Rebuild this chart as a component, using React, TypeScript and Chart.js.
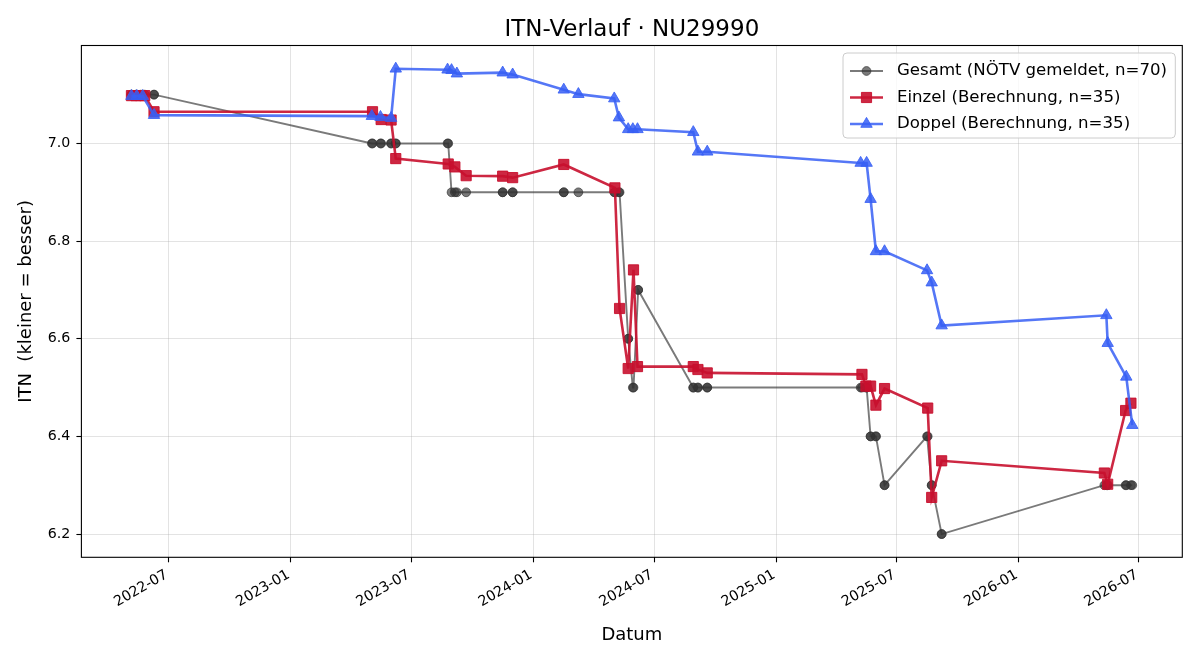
import { useEffect, useRef } from "react";
import { Chart, registerables } from "chart.js";

Chart.register(...registerables);

// ---- Data -------------------------------------------------------------

// Einzel (singles) ITN computed per match date
const einzelDates = [
  "2022-05-06", "2022-05-13", "2022-05-20", "2022-05-26", "2022-06-09",
  "2023-05-04", "2023-05-17", "2023-06-01", "2023-06-08",
  "2023-08-26", "2023-09-05", "2023-09-22",
  "2023-11-16", "2023-12-01",
  "2024-02-16",
  "2024-05-03", "2024-05-10", "2024-05-23", "2024-05-31", "2024-06-06",
  "2024-08-29", "2024-09-05", "2024-09-19",
  "2025-05-10", "2025-05-16", "2025-05-23", "2025-05-31", "2025-06-13",
  "2025-08-17", "2025-08-23", "2025-09-07",
  "2026-05-10", "2026-05-15", "2026-06-11", "2026-06-19",
];
const einzelValues = [
  7.098, 7.098, 7.098, 7.098, 7.065,
  7.065, 7.049, 7.048, 6.969,
  6.958, 6.952, 6.934,
  6.933, 6.930,
  6.957,
  6.909, 6.662, 6.539, 6.741, 6.543,
  6.543, 6.537, 6.530,
  6.527, 6.503, 6.503, 6.464, 6.498,
  6.458, 6.275, 6.350,
  6.325, 6.302, 6.453, 6.468,
];

// Doppel (doubles) ITN computed per match date
const doppelDates = [
  "2022-05-06", "2022-05-14", "2022-05-23", "2022-06-09",
  "2023-05-03", "2023-05-16", "2023-06-01", "2023-06-08",
  "2023-08-25", "2023-08-31", "2023-09-08",
  "2023-11-16", "2023-12-01",
  "2024-02-16", "2024-03-09",
  "2024-05-02", "2024-05-09", "2024-05-23", "2024-05-30", "2024-06-06",
  "2024-08-29", "2024-09-05", "2024-09-19",
  "2025-05-08", "2025-05-17", "2025-05-23", "2025-05-31", "2025-06-13",
  "2025-08-16", "2025-08-23", "2025-09-07",
  "2026-05-13", "2026-05-15", "2026-06-12", "2026-06-21",
];
const doppelValues = [
  7.097, 7.097, 7.097, 7.058,
  7.056, 7.054, 7.052, 7.153,
  7.151, 7.150, 7.143,
  7.145, 7.141,
  7.110, 7.101,
  7.092, 7.053, 7.029, 7.029, 7.029,
  7.023, 6.983, 6.983,
  6.960, 6.960, 6.886, 6.779, 6.779,
  6.740, 6.715, 6.627,
  6.648, 6.591, 6.522, 6.423,
];

// Gesamt: ITN as reported by the federation on every match date
const gesamtDates = [
  "2022-05-06", "2022-05-06", "2022-05-13", "2022-05-14", "2022-05-20",
  "2022-05-23", "2022-05-26", "2022-06-09", "2022-06-09",
  "2023-05-03", "2023-05-04", "2023-05-16", "2023-05-17", "2023-06-01",
  "2023-06-01", "2023-06-08", "2023-06-08", "2023-08-25", "2023-08-26",
  "2023-08-31", "2023-09-05", "2023-09-08", "2023-09-22",
  "2023-11-16", "2023-11-16", "2023-12-01", "2023-12-01",
  "2024-02-16", "2024-02-16", "2024-03-09",
  "2024-05-02", "2024-05-03", "2024-05-09", "2024-05-10",
  "2024-05-23", "2024-05-23", "2024-05-30", "2024-05-31", "2024-06-07", "2024-06-07",
  "2024-08-29", "2024-08-29", "2024-09-05", "2024-09-05", "2024-09-19", "2024-09-19",
  "2025-05-08", "2025-05-10", "2025-05-16", "2025-05-17",
  "2025-05-23", "2025-05-23", "2025-05-31", "2025-05-31", "2025-06-13", "2025-06-13",
  "2025-08-16", "2025-08-17", "2025-08-23", "2025-08-23", "2025-09-07", "2025-09-07",
  "2026-05-10", "2026-05-13", "2026-05-15", "2026-05-15",
  "2026-06-11", "2026-06-12", "2026-06-19", "2026-06-21",
];
const gesamtValues = [
  7.1, 7.1, 7.1, 7.1, 7.1,
  7.1, 7.1, 7.1, 7.1,
  7.0, 7.0, 7.0, 7.0, 7.0,
  7.0, 7.0, 7.0, 7.0, 7.0,
  6.9, 6.9, 6.9, 6.9,
  6.9, 6.9, 6.9, 6.9,
  6.9, 6.9, 6.9,
  6.9, 6.9, 6.9, 6.9,
  6.6, 6.6, 6.5, 6.5, 6.7, 6.7,
  6.5, 6.5, 6.5, 6.5, 6.5, 6.5,
  6.5, 6.5, 6.5, 6.5,
  6.4, 6.4, 6.4, 6.4, 6.3, 6.3,
  6.4, 6.4, 6.3, 6.3, 6.2, 6.2,
  6.3, 6.3, 6.3, 6.3,
  6.3, 6.3, 6.3, 6.3,
];

const yTickValues = [6.2, 6.4, 6.6, 6.8, 7.0];
const xTickMonths = [
  "2022-07", "2023-01", "2023-07", "2024-01", "2024-07",
  "2025-01", "2025-07", "2026-01", "2026-07",
];

const titleText = "ITN-Verlauf · NU29990";
const xAxisTitle = "Datum";
const yAxisTitle = "ITN  (kleiner = besser)";

// ---- Styling ------------------------------------------------------------

const FONT = "'DejaVu Sans', 'Liberation Sans', sans-serif";
const GRID = "rgba(176,176,176,0.35)";

type MarkerStyle = "circle" | "rect" | "triangle";
interface Series {
  label: string;
  dates: string[];
  values: number[];
  color: string;
  lineWidth: number;
  marker: MarkerStyle;
  radius: number;
  order: number;
}

const series: Series[] = [
  {
    label: "Gesamt (NÖTV gemeldet, n=70)",
    dates: gesamtDates,
    values: gesamtValues,
    color: "rgba(51,51,51,0.65)",
    lineWidth: 1.9,
    marker: "circle",
    radius: 4.4,
    order: 3,
  },
  {
    label: "Einzel (Berechnung, n=35)",
    dates: einzelDates,
    values: einzelValues,
    color: "rgba(200,16,46,0.9)",
    lineWidth: 2.6,
    marker: "rect",
    radius: 7.2,
    order: 2,
  },
  {
    label: "Doppel (Berechnung, n=35)",
    dates: doppelDates,
    values: doppelValues,
    color: "rgba(55,95,245,0.85)",
    lineWidth: 2.6,
    marker: "triangle",
    radius: 6.6,
    order: 1,
  },
];

const toMs = (d: string) => Date.parse(`${d}T00:00:00Z`);

const fmtMonth = (v: number) => {
  const d = new Date(v);
  return `${d.getUTCFullYear()}-${String(d.getUTCMonth() + 1).padStart(2, "0")}`;
};

// Axis limits: data range plus 5 % margin on each side
const allMs = series.flatMap((s) => s.dates.map(toMs));
const allVals = series.flatMap((s) => s.values);
const xLo = Math.min(...allMs);
const xHi = Math.max(...allMs);
const xPad = (xHi - xLo) * 0.05;
const yLo = Math.min(...allVals);
const yHi = Math.max(...allVals);
const yPad = (yHi - yLo) * 0.05;

function markerPath(ctx: CanvasRenderingContext2D, m: MarkerStyle, x: number, y: number, r: number) {
  ctx.beginPath();
  if (m === "circle") {
    ctx.arc(x, y, r, 0, Math.PI * 2);
  } else if (m === "rect") {
    const s = r * Math.SQRT1_2;
    ctx.rect(x - s, y - s, 2 * s, 2 * s);
  } else {
    let a = 0;
    ctx.moveTo(x + Math.sin(a) * r, y - Math.cos(a) * r);
    a += (2 * Math.PI) / 3;
    ctx.lineTo(x + Math.sin(a) * r, y - Math.cos(a) * r);
    a += (2 * Math.PI) / 3;
    ctx.lineTo(x + Math.sin(a) * r, y - Math.cos(a) * r);
    ctx.closePath();
  }
}

const decorations = {
  id: "decorations",
  afterDatasetsDraw(chart: Chart) {
    const { ctx, chartArea: a } = chart;
    ctx.save();
    ctx.strokeStyle = "#000";
    ctx.lineWidth = 1.1;
    ctx.strokeRect(a.left, a.top, a.right - a.left, a.bottom - a.top);
    ctx.restore();
  },
  afterDraw(chart: Chart) {
    const { ctx, chartArea: a } = chart;
    const cx = (a.left + a.right) / 2;
    ctx.save();
    ctx.fillStyle = "#000";
    ctx.textAlign = "center";
    ctx.textBaseline = "alphabetic";
    ctx.font = `23px ${FONT}`;
    ctx.fillText(titleText, cx, 36);
    ctx.font = `18px ${FONT}`;
    ctx.fillText(xAxisTitle, cx, 640);
    ctx.save();
    ctx.translate(26, (a.top + a.bottom) / 2);
    ctx.rotate(-Math.PI / 2);
    ctx.textBaseline = "middle";
    ctx.fillText(yAxisTitle, 0, 0);
    ctx.restore();

    // Legend box (upper right)
    const bx = 843;
    const by = 53;
    const bw = a.right - 7 - bx;
    const bh = 85;
    ctx.beginPath();
    if ((ctx as any).roundRect) (ctx as any).roundRect(bx, by, bw, bh, 4);
    else ctx.rect(bx, by, bw, bh);
    ctx.fillStyle = "rgba(255,255,255,0.8)";
    ctx.fill();
    ctx.strokeStyle = "#cccccc";
    ctx.lineWidth = 1;
    ctx.stroke();

    const rows = [71, 97.5, 124];
    series.forEach((s, i) => {
      const y = rows[i];
      ctx.strokeStyle = s.color;
      ctx.lineWidth = s.lineWidth;
      ctx.beginPath();
      ctx.moveTo(850, y);
      ctx.lineTo(883, y);
      ctx.stroke();
      markerPath(ctx, s.marker, 866.5, y, s.radius);
      ctx.fillStyle = s.color;
      ctx.fill();
      ctx.lineWidth = 1;
      ctx.stroke();
      ctx.fillStyle = "#000";
      ctx.textAlign = "left";
      ctx.textBaseline = "middle";
      ctx.font = `16.6px ${FONT}`;
      ctx.fillText(s.label, 897, y);
    });
    ctx.restore();
  },
};

export default function App() {
  const canvasRef = useRef<HTMLCanvasElement | null>(null);

  useEffect(() => {
    document.body.style.margin = "0";
    const canvas = canvasRef.current;
    if (!canvas) return;

    const tickFont = { family: FONT, size: 14.2 };

    const chart = new Chart(canvas, {
      type: "line",
      data: {
        datasets: series.map((s) => ({
          label: s.label,
          data: s.dates.map((d, i) => ({ x: toMs(d), y: s.values[i] })),
          borderColor: s.color,
          backgroundColor: s.color,
          borderWidth: s.lineWidth,
          pointStyle: s.marker,
          pointRadius: s.radius,
          pointBorderWidth: 1,
          pointBackgroundColor: s.color,
          pointBorderColor: s.color,
          tension: 0,
          fill: false,
          order: s.order,
        })),
      },
      options: {
        responsive: false,
        animation: false,
        events: [],
        layout: { padding: { top: 45.5, right: 17.7, bottom: 0, left: 0 } },
        plugins: {
          legend: { display: false },
          title: { display: false },
          tooltip: { enabled: false },
        },
        scales: {
          x: {
            type: "linear",
            min: xLo - xPad,
            max: xHi + xPad,
            afterBuildTicks: (s: any) => {
              s.ticks = xTickMonths.map((m) => ({ value: toMs(`${m}-01`) }));
            },
            afterFit: (s: any) => {
              s.height = 102.7;
            },
            border: { display: false },
            grid: { color: GRID, lineWidth: 1, tickColor: "#000", tickLength: 5, tickWidth: 1.1 },
            ticks: {
              autoSkip: false,
              minRotation: 30,
              maxRotation: 30,
              padding: 4,
              labelOffset: -2,
              color: "#000",
              font: tickFont,
              callback: (v: any) => fmtMonth(Number(v)),
            },
          },
          y: {
            type: "linear",
            min: yLo - yPad,
            max: yHi + yPad,
            afterBuildTicks: (s: any) => {
              s.ticks = yTickValues.map((v) => ({ value: v }));
            },
            afterFit: (s: any) => {
              s.width = 81.4;
            },
            border: { display: false },
            grid: { color: GRID, lineWidth: 1, tickColor: "#000", tickLength: 5, tickWidth: 1.1 },
            ticks: {
              padding: 6,
              color: "#000",
              font: tickFont,
              callback: (v: any) => Number(v).toFixed(1),
            },
          },
        },
      },
      plugins: [decorations],
    } as any);

    return () => chart.destroy();
  }, []);

  return (
    <div style={{ width: 1200, height: 660, background: "#fff" }}>
      <canvas ref={canvasRef} width={1200} height={660} style={{ display: "block" }} />
    </div>
  );
}
